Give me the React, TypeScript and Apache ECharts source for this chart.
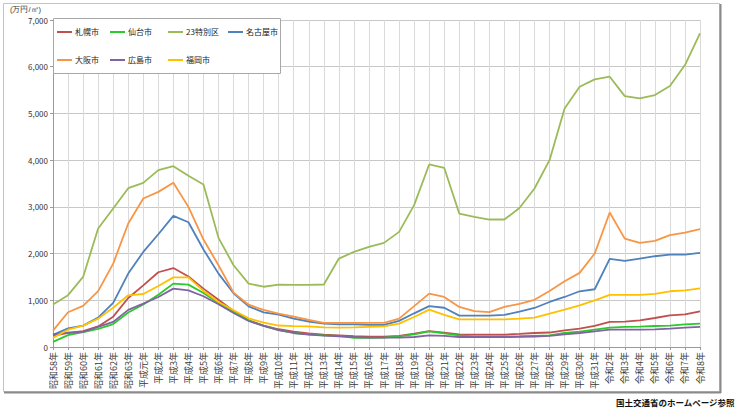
import React, { useEffect, useRef } from "react";
import * as echarts from "echarts";

// Fiscal-year labels (Showa 58 → Reiwa 8)
const years: string[] = [
  "昭和58年", "昭和59年", "昭和60年", "昭和61年", "昭和62年", "昭和63年",
  "平成元年", "平成2年", "平成3年", "平成4年", "平成5年", "平成6年", "平成7年",
  "平成8年", "平成9年", "平成10年", "平成11年", "平成12年", "平成13年", "平成14年",
  "平成15年", "平成16年", "平成17年", "平成18年", "平成19年", "平成20年", "平成21年",
  "平成22年", "平成23年", "平成24年", "平成25年", "平成26年", "平成27年", "平成28年",
  "平成29年", "平成30年", "平成31年",
  "令和2年", "令和3年", "令和4年", "令和5年", "令和6年", "令和7年", "令和8年",
];

// Average commercial land price per city (万円/㎡)
const sapporo: number[] = [
  240, 300, 340, 440, 650, 1050, 1320, 1600, 1690, 1510, 1250, 1010, 770, 570, 460,
  380, 330, 290, 265, 250, 230, 220, 220, 240, 285, 340, 305, 270, 265, 265, 265,
  280, 300, 310, 357, 393, 450, 536, 543, 571, 621, 679, 700, 764,
];
const sendai: number[] = [
  110, 255, 320, 390, 490, 740, 910, 1120, 1357, 1336, 1157, 943, 750, 570, 450,
  360, 300, 270, 250, 240, 195, 195, 200, 229, 271, 336, 290, 250, 229, 225, 225,
  230, 240, 250, 300, 329, 371, 414, 429, 436, 450, 457, 486, 500,
];
const tokyo23: number[] = [
  910, 1110, 1500, 2536, 2964, 3400, 3514, 3786, 3871, 3664, 3480, 2336, 1750, 1357, 1290,
  1336, 1330, 1330, 1338, 1893, 2036, 2143, 2229, 2464, 3036, 3907, 3836, 2857, 2786, 2729,
  2729, 2975, 3393, 4000, 5107, 5571, 5729, 5786, 5371, 5321, 5393, 5586, 6036, 6714,
];
const nagoya: number[] = [
  260, 400, 457, 629, 943, 1571, 2036, 2414, 2807, 2671, 2086, 1571, 1150, 870, 743,
  693, 607, 546, 500, 486, 483, 475, 475, 560, 721, 875, 840, 671, 670, 673, 686,
  757, 835, 964, 1071, 1193, 1236, 1886, 1843, 1893, 1943, 1979, 1979, 2014,
];
const osaka: number[] = [
  350, 743, 879, 1195, 1786, 2643, 3179, 3321, 3514, 3000, 2300, 1750, 1164, 905, 793,
  714, 650, 578, 518, 514, 514, 518, 518, 607, 875, 1143, 1071, 857, 768, 746, 857,
  925, 1010, 1200, 1407, 1586, 2000, 2879, 2321, 2229, 2271, 2393, 2450, 2521,
];
const hiroshima: number[] = [
  271, 305, 325, 429, 536, 795, 929, 1071, 1250, 1214, 1086, 914, 729, 557, 450,
  360, 300, 265, 245, 230, 214, 200, 200, 200, 214, 250, 236, 214, 214, 214, 214,
  215, 225, 236, 271, 300, 336, 371, 371, 371, 379, 393, 414, 429,
];
const fukuoka: number[] = [
  195, 370, 457, 607, 840, 1107, 1135, 1307, 1490, 1490, 1200, 964, 786, 614, 520,
  460, 445, 440, 420, 415, 420, 430, 440, 500, 643, 800, 686, 593, 593, 593, 593,
  607, 629, 714, 800, 893, 1000, 1114, 1114, 1114, 1136, 1193, 1214, 1257,
];

const cityNames: string[] = ["札幌市", "仙台市", "23特別区", "名古屋市", "大阪市", "広島市", "福岡市"];
const cityValues: number[][] = [sapporo, sendai, tokyo23, nagoya, osaka, hiroshima, fukuoka];
const cityColors: string[] = ["#C0504D", "#2BC92B", "#9BBB59", "#4F81BD", "#F79646", "#8064A2", "#FFC000"];

// Legend slots laid out in a fixed 4-column grid
const legendLeft: number[] = [57, 110, 168, 228, 57, 110, 168];
const legendTop: number[] = [28, 28, 28, 28, 56, 56, 56];

const FONT = "'Noto Sans CJK JP', 'Noto Sans', sans-serif";

export default function App() {
  const ref = useRef<HTMLDivElement>(null);

  useEffect(() => {
    document.body.style.margin = "0";
    if (!ref.current) return;
    const chart = echarts.init(ref.current, undefined, { renderer: "svg" });

    const option: echarts.EChartsOption = {
      animation: false,
      backgroundColor: "#ffffff",
      textStyle: { fontFamily: FONT },
      grid: { left: 53, right: 38, top: 20, bottom: 65, containLabel: false },
      legend: cityNames.map((name, i) => ({
        data: [name],
        left: legendLeft[i],
        top: legendTop[i],
        padding: 0,
        icon: "rect",
        itemWidth: 15,
        itemHeight: 2,
        itemGap: 0,
        z: 20,
        selectedMode: false,
        textStyle: { fontSize: 8, color: "#222", fontFamily: FONT, padding: [0, 0, 0, -2] },
      })),
      xAxis: {
        type: "category",
        data: years,
        boundaryGap: false,
        axisLine: { show: true, lineStyle: { color: "#9a9a9a", width: 1 } },
        axisTick: { show: true, interval: 0, length: 3, lineStyle: { color: "#9a9a9a" } },
        splitLine: { show: true, interval: 0, lineStyle: { color: "#dadada", width: 1 } },
        axisLabel: {
          interval: 0,
          rotate: 90,
          fontSize: 9,
          color: "#3a3a3a",
          margin: 5,
          fontFamily: FONT,
        },
      },
      yAxis: {
        type: "value",
        min: 0,
        max: 7000,
        interval: 1000,
        axisLine: { show: true, lineStyle: { color: "#9a9a9a", width: 1 } },
        axisTick: { show: true, length: 3, lineStyle: { color: "#9a9a9a" } },
        splitLine: { show: true, lineStyle: { color: "#c8c8c8", width: 1 } },
        axisLabel: {
          fontSize: 8,
          color: "#333",
          margin: 5,
          fontFamily: FONT,
          formatter: (v: number) => v.toLocaleString("en-US"),
        },
      },
      series: cityNames.map((name, i) => ({
        name,
        type: "line",
        data: cityValues[i],
        showSymbol: false,
        symbol: "none",
        color: cityColors[i],
        lineStyle: { width: 1.8, color: cityColors[i] },
        z: 3,
      })),
      graphic: [
        // outer frame of the chart object
        {
          type: "rect",
          shape: { x: 3.5, y: 3.5, width: 716, height: 388 },
          style: { fill: "none", stroke: "#c4c4c4", lineWidth: 1 },
          z: -1,
          silent: true,
        },
        {
          type: "line",
          shape: { x1: 720.5, y1: 4, x2: 720.5, y2: 393 },
          style: { stroke: "#8a8a8a", lineWidth: 2 },
          silent: true,
        },
        {
          type: "line",
          shape: { x1: 4, y1: 392.5, x2: 721, y2: 392.5 },
          style: { stroke: "#8a8a8a", lineWidth: 2 },
          silent: true,
        },
        // legend box
        {
          type: "rect",
          shape: { x: 53.5, y: 18.5, width: 227, height: 55 },
          style: { fill: "#ffffff", stroke: "#a8a8a8", lineWidth: 1 },
          z: 10,
          silent: true,
        },
        {
          type: "text",
          left: 10,
          top: 5,
          style: { text: "(万円/㎡)", fontSize: 7.5, fill: "#333", font: `7.5px ${FONT}` },
          silent: true,
        },
        {
          type: "text",
          right: 3,
          top: 398,
          style: {
            text: "国土交通省のホームページ参照",
            fill: "#111",
            font: `bold 8.5px ${FONT}`,
          },
          silent: true,
        },
      ],
    };

    chart.setOption(option);
    return () => chart.dispose();
  }, []);

  return <div ref={ref} style={{ width: 738, height: 412 }} />;
}
